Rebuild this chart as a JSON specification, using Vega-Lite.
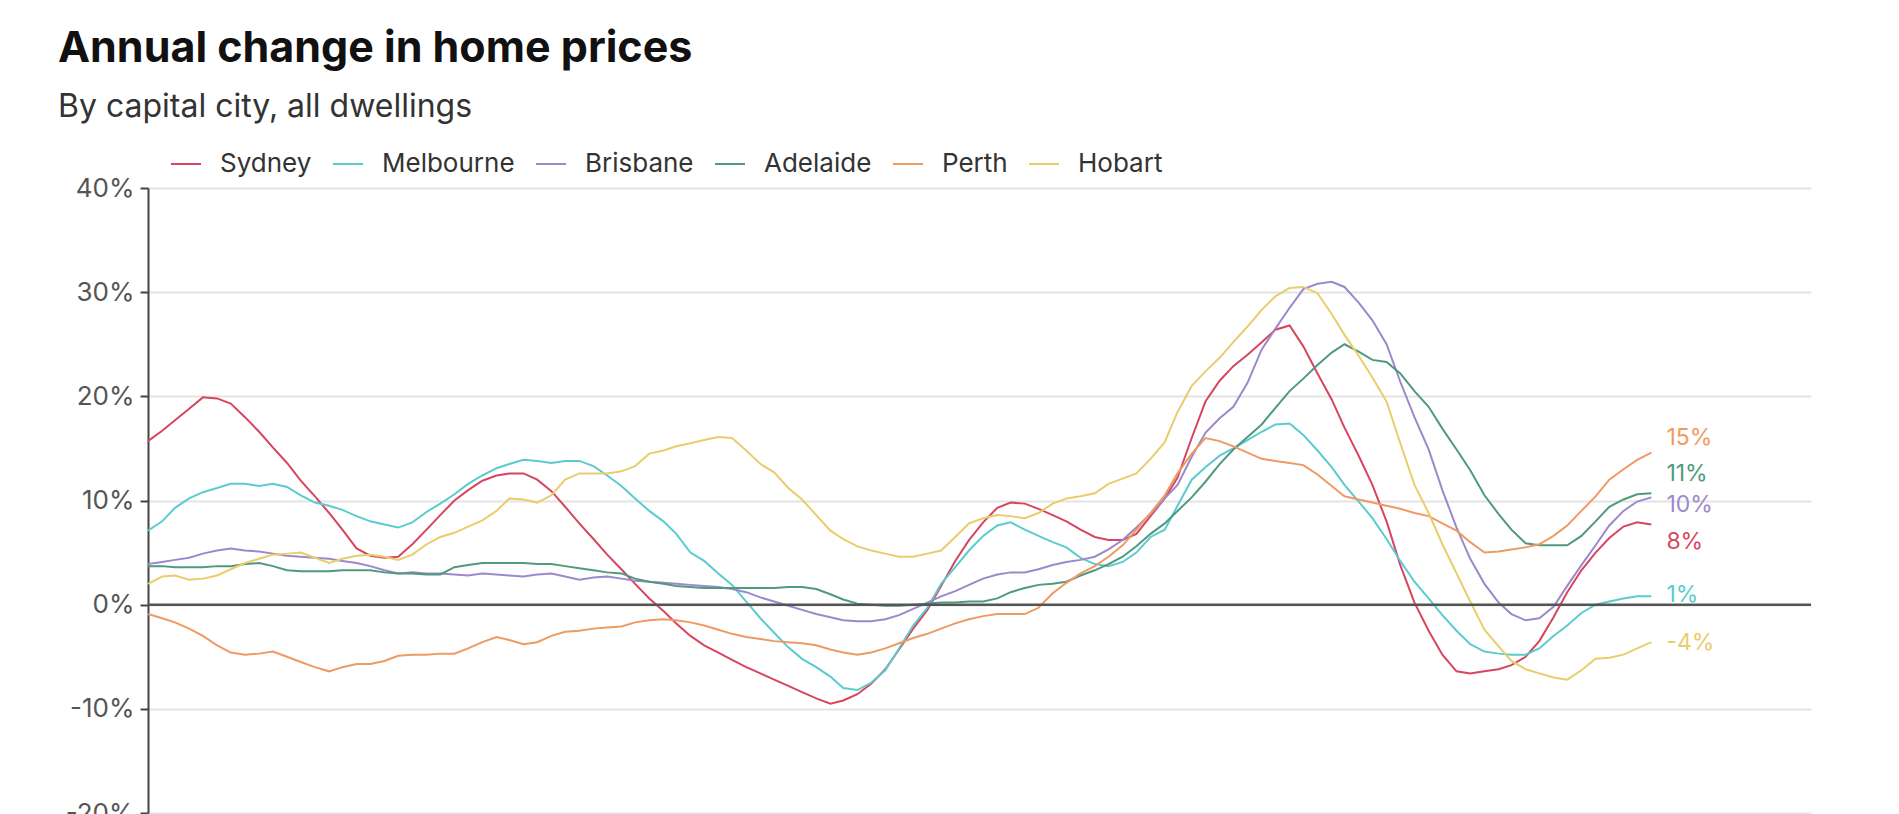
{
  "$schema": "https://vega.github.io/schema/vega-lite/v6.json",
  "width": 1663,
  "height": 625,
  "autosize": {"type": "none"},
  "padding": {"left": 148, "top": 188, "right": 88, "bottom": 1},
  "background": "white",
  "title": {
    "text": "Annual change in home prices",
    "subtitle": "By capital city, all dwellings",
    "anchor": "start",
    "frame": "group",
    "dx": -90,
    "offset": 25,
    "font": "Inter",
    "fontSize": 43,
    "fontWeight": "bold",
    "color": "#111111",
    "subtitleFont": "Inter",
    "subtitleFontSize": 32,
    "subtitleColor": "#333333",
    "subtitlePadding": 21
  },
  "config": {
    "view": {"stroke": null},
    "font": "Inter"
  },
  "data": {
    "values": [
      {"d":"2015-01-01","Sydney":15.7,"Melbourne":7.1,"Brisbane":3.9,"Adelaide":3.7,"Perth":-0.9,"Hobart":2.0},
      {"d":"2015-02-01","Sydney":16.7,"Melbourne":8.0,"Brisbane":4.1,"Adelaide":3.7,"Perth":-1.3,"Hobart":2.7},
      {"d":"2015-03-01","Sydney":17.7,"Melbourne":9.3,"Brisbane":4.3,"Adelaide":3.6,"Perth":-1.7,"Hobart":2.8},
      {"d":"2015-04-01","Sydney":18.8,"Melbourne":10.2,"Brisbane":4.5,"Adelaide":3.6,"Perth":-2.3,"Hobart":2.4},
      {"d":"2015-05-01","Sydney":19.9,"Melbourne":10.8,"Brisbane":4.9,"Adelaide":3.6,"Perth":-3.0,"Hobart":2.5},
      {"d":"2015-06-01","Sydney":19.8,"Melbourne":11.2,"Brisbane":5.2,"Adelaide":3.7,"Perth":-3.9,"Hobart":2.8},
      {"d":"2015-07-01","Sydney":19.3,"Melbourne":11.6,"Brisbane":5.4,"Adelaide":3.7,"Perth":-4.6,"Hobart":3.4},
      {"d":"2015-08-01","Sydney":18.0,"Melbourne":11.6,"Brisbane":5.2,"Adelaide":3.9,"Perth":-4.8,"Hobart":4.0},
      {"d":"2015-09-01","Sydney":16.6,"Melbourne":11.4,"Brisbane":5.1,"Adelaide":4.0,"Perth":-4.7,"Hobart":4.4},
      {"d":"2015-10-01","Sydney":15.1,"Melbourne":11.6,"Brisbane":4.9,"Adelaide":3.7,"Perth":-4.5,"Hobart":4.8},
      {"d":"2015-11-01","Sydney":13.6,"Melbourne":11.3,"Brisbane":4.7,"Adelaide":3.3,"Perth":-5.0,"Hobart":4.9},
      {"d":"2015-12-01","Sydney":11.9,"Melbourne":10.5,"Brisbane":4.6,"Adelaide":3.2,"Perth":-5.5,"Hobart":5.0},
      {"d":"2016-01-01","Sydney":10.4,"Melbourne":9.8,"Brisbane":4.5,"Adelaide":3.2,"Perth":-6.0,"Hobart":4.5},
      {"d":"2016-02-01","Sydney":8.8,"Melbourne":9.5,"Brisbane":4.4,"Adelaide":3.2,"Perth":-6.4,"Hobart":4.0},
      {"d":"2016-03-01","Sydney":7.2,"Melbourne":9.1,"Brisbane":4.2,"Adelaide":3.3,"Perth":-6.0,"Hobart":4.4},
      {"d":"2016-04-01","Sydney":5.4,"Melbourne":8.5,"Brisbane":4.0,"Adelaide":3.3,"Perth":-5.7,"Hobart":4.7},
      {"d":"2016-05-01","Sydney":4.7,"Melbourne":8.0,"Brisbane":3.7,"Adelaide":3.3,"Perth":-5.7,"Hobart":4.8},
      {"d":"2016-06-01","Sydney":4.5,"Melbourne":7.7,"Brisbane":3.3,"Adelaide":3.1,"Perth":-5.4,"Hobart":4.6},
      {"d":"2016-07-01","Sydney":4.6,"Melbourne":7.4,"Brisbane":3.0,"Adelaide":3.0,"Perth":-4.9,"Hobart":4.3},
      {"d":"2016-08-01","Sydney":5.8,"Melbourne":7.9,"Brisbane":3.1,"Adelaide":3.0,"Perth":-4.8,"Hobart":4.8},
      {"d":"2016-09-01","Sydney":7.2,"Melbourne":8.9,"Brisbane":3.0,"Adelaide":2.9,"Perth":-4.8,"Hobart":5.8},
      {"d":"2016-10-01","Sydney":8.6,"Melbourne":9.7,"Brisbane":3.0,"Adelaide":2.9,"Perth":-4.7,"Hobart":6.5},
      {"d":"2016-11-01","Sydney":10.0,"Melbourne":10.6,"Brisbane":2.9,"Adelaide":3.6,"Perth":-4.7,"Hobart":6.9},
      {"d":"2016-12-01","Sydney":11.0,"Melbourne":11.6,"Brisbane":2.8,"Adelaide":3.8,"Perth":-4.2,"Hobart":7.5},
      {"d":"2017-01-01","Sydney":11.9,"Melbourne":12.4,"Brisbane":3.0,"Adelaide":4.0,"Perth":-3.6,"Hobart":8.1},
      {"d":"2017-02-01","Sydney":12.4,"Melbourne":13.1,"Brisbane":2.9,"Adelaide":4.0,"Perth":-3.1,"Hobart":9.0},
      {"d":"2017-03-01","Sydney":12.6,"Melbourne":13.5,"Brisbane":2.8,"Adelaide":4.0,"Perth":-3.4,"Hobart":10.2},
      {"d":"2017-04-01","Sydney":12.6,"Melbourne":13.9,"Brisbane":2.7,"Adelaide":4.0,"Perth":-3.8,"Hobart":10.1},
      {"d":"2017-05-01","Sydney":12.0,"Melbourne":13.8,"Brisbane":2.9,"Adelaide":3.9,"Perth":-3.6,"Hobart":9.8},
      {"d":"2017-06-01","Sydney":10.9,"Melbourne":13.6,"Brisbane":3.0,"Adelaide":3.9,"Perth":-3.0,"Hobart":10.5},
      {"d":"2017-07-01","Sydney":9.4,"Melbourne":13.8,"Brisbane":2.7,"Adelaide":3.7,"Perth":-2.6,"Hobart":12.0},
      {"d":"2017-08-01","Sydney":7.8,"Melbourne":13.8,"Brisbane":2.4,"Adelaide":3.5,"Perth":-2.5,"Hobart":12.6},
      {"d":"2017-09-01","Sydney":6.3,"Melbourne":13.3,"Brisbane":2.6,"Adelaide":3.3,"Perth":-2.3,"Hobart":12.6},
      {"d":"2017-10-01","Sydney":4.8,"Melbourne":12.4,"Brisbane":2.7,"Adelaide":3.1,"Perth":-2.2,"Hobart":12.6},
      {"d":"2017-11-01","Sydney":3.4,"Melbourne":11.4,"Brisbane":2.5,"Adelaide":3.0,"Perth":-2.1,"Hobart":12.8},
      {"d":"2017-12-01","Sydney":2.0,"Melbourne":10.2,"Brisbane":2.3,"Adelaide":2.5,"Perth":-1.7,"Hobart":13.3},
      {"d":"2018-01-01","Sydney":0.6,"Melbourne":9.0,"Brisbane":2.2,"Adelaide":2.2,"Perth":-1.5,"Hobart":14.5},
      {"d":"2018-02-01","Sydney":-0.6,"Melbourne":8.0,"Brisbane":2.1,"Adelaide":2.0,"Perth":-1.4,"Hobart":14.8},
      {"d":"2018-03-01","Sydney":-1.8,"Melbourne":6.8,"Brisbane":2.0,"Adelaide":1.8,"Perth":-1.5,"Hobart":15.2},
      {"d":"2018-04-01","Sydney":-3.0,"Melbourne":5.0,"Brisbane":1.9,"Adelaide":1.7,"Perth":-1.7,"Hobart":15.5},
      {"d":"2018-05-01","Sydney":-3.9,"Melbourne":4.2,"Brisbane":1.8,"Adelaide":1.6,"Perth":-2.0,"Hobart":15.8},
      {"d":"2018-06-01","Sydney":-4.6,"Melbourne":3.0,"Brisbane":1.7,"Adelaide":1.6,"Perth":-2.4,"Hobart":16.1},
      {"d":"2018-07-01","Sydney":-5.3,"Melbourne":1.9,"Brisbane":1.5,"Adelaide":1.6,"Perth":-2.8,"Hobart":16.0},
      {"d":"2018-08-01","Sydney":-6.0,"Melbourne":0.3,"Brisbane":1.2,"Adelaide":1.6,"Perth":-3.1,"Hobart":14.8},
      {"d":"2018-09-01","Sydney":-6.6,"Melbourne":-1.3,"Brisbane":0.7,"Adelaide":1.6,"Perth":-3.3,"Hobart":13.5},
      {"d":"2018-10-01","Sydney":-7.2,"Melbourne":-2.7,"Brisbane":0.3,"Adelaide":1.6,"Perth":-3.5,"Hobart":12.7},
      {"d":"2018-11-01","Sydney":-7.8,"Melbourne":-4.1,"Brisbane":-0.1,"Adelaide":1.7,"Perth":-3.6,"Hobart":11.2},
      {"d":"2018-12-01","Sydney":-8.4,"Melbourne":-5.2,"Brisbane":-0.5,"Adelaide":1.7,"Perth":-3.7,"Hobart":10.1},
      {"d":"2019-01-01","Sydney":-9.0,"Melbourne":-6.0,"Brisbane":-0.9,"Adelaide":1.5,"Perth":-3.9,"Hobart":8.6},
      {"d":"2019-02-01","Sydney":-9.5,"Melbourne":-6.9,"Brisbane":-1.2,"Adelaide":1.0,"Perth":-4.3,"Hobart":7.1},
      {"d":"2019-03-01","Sydney":-9.2,"Melbourne":-8.0,"Brisbane":-1.5,"Adelaide":0.5,"Perth":-4.6,"Hobart":6.3},
      {"d":"2019-04-01","Sydney":-8.6,"Melbourne":-8.2,"Brisbane":-1.6,"Adelaide":0.1,"Perth":-4.8,"Hobart":5.6},
      {"d":"2019-05-01","Sydney":-7.6,"Melbourne":-7.5,"Brisbane":-1.6,"Adelaide":0.0,"Perth":-4.6,"Hobart":5.2},
      {"d":"2019-06-01","Sydney":-6.2,"Melbourne":-6.3,"Brisbane":-1.4,"Adelaide":-0.1,"Perth":-4.2,"Hobart":4.9},
      {"d":"2019-07-01","Sydney":-4.3,"Melbourne":-4.2,"Brisbane":-1.0,"Adelaide":-0.1,"Perth":-3.7,"Hobart":4.6},
      {"d":"2019-08-01","Sydney":-2.3,"Melbourne":-2.0,"Brisbane":-0.4,"Adelaide":0.0,"Perth":-3.2,"Hobart":4.6},
      {"d":"2019-09-01","Sydney":-0.5,"Melbourne":-0.3,"Brisbane":0.2,"Adelaide":0.1,"Perth":-2.8,"Hobart":4.9},
      {"d":"2019-10-01","Sydney":1.8,"Melbourne":2.0,"Brisbane":0.8,"Adelaide":0.2,"Perth":-2.3,"Hobart":5.2},
      {"d":"2019-11-01","Sydney":4.2,"Melbourne":3.6,"Brisbane":1.3,"Adelaide":0.2,"Perth":-1.8,"Hobart":6.5},
      {"d":"2019-12-01","Sydney":6.2,"Melbourne":5.2,"Brisbane":1.9,"Adelaide":0.3,"Perth":-1.4,"Hobart":7.8},
      {"d":"2020-01-01","Sydney":7.9,"Melbourne":6.6,"Brisbane":2.5,"Adelaide":0.3,"Perth":-1.1,"Hobart":8.3},
      {"d":"2020-02-01","Sydney":9.3,"Melbourne":7.6,"Brisbane":2.9,"Adelaide":0.6,"Perth":-0.9,"Hobart":8.6},
      {"d":"2020-03-01","Sydney":9.8,"Melbourne":7.9,"Brisbane":3.1,"Adelaide":1.2,"Perth":-0.9,"Hobart":8.5},
      {"d":"2020-04-01","Sydney":9.7,"Melbourne":7.2,"Brisbane":3.1,"Adelaide":1.6,"Perth":-0.9,"Hobart":8.3},
      {"d":"2020-05-01","Sydney":9.2,"Melbourne":6.6,"Brisbane":3.4,"Adelaide":1.9,"Perth":-0.3,"Hobart":8.8},
      {"d":"2020-06-01","Sydney":8.6,"Melbourne":6.0,"Brisbane":3.8,"Adelaide":2.0,"Perth":1.1,"Hobart":9.7},
      {"d":"2020-07-01","Sydney":8.0,"Melbourne":5.5,"Brisbane":4.1,"Adelaide":2.2,"Perth":2.1,"Hobart":10.2},
      {"d":"2020-08-01","Sydney":7.2,"Melbourne":4.5,"Brisbane":4.3,"Adelaide":2.8,"Perth":3.0,"Hobart":10.4},
      {"d":"2020-09-01","Sydney":6.5,"Melbourne":3.9,"Brisbane":4.6,"Adelaide":3.3,"Perth":3.7,"Hobart":10.7},
      {"d":"2020-10-01","Sydney":6.2,"Melbourne":3.7,"Brisbane":5.3,"Adelaide":3.9,"Perth":4.6,"Hobart":11.6},
      {"d":"2020-11-01","Sydney":6.2,"Melbourne":4.1,"Brisbane":6.2,"Adelaide":4.6,"Perth":5.7,"Hobart":12.1},
      {"d":"2020-12-01","Sydney":6.8,"Melbourne":5.0,"Brisbane":7.4,"Adelaide":5.6,"Perth":7.2,"Hobart":12.6},
      {"d":"2021-01-01","Sydney":8.5,"Melbourne":6.5,"Brisbane":8.7,"Adelaide":6.8,"Perth":8.8,"Hobart":14.0},
      {"d":"2021-02-01","Sydney":10.2,"Melbourne":7.2,"Brisbane":10.2,"Adelaide":7.8,"Perth":10.5,"Hobart":15.6},
      {"d":"2021-03-01","Sydney":12.2,"Melbourne":9.5,"Brisbane":11.5,"Adelaide":9.0,"Perth":12.6,"Hobart":18.5},
      {"d":"2021-04-01","Sydney":16.0,"Melbourne":12.0,"Brisbane":14.2,"Adelaide":10.3,"Perth":14.5,"Hobart":21.0},
      {"d":"2021-05-01","Sydney":19.5,"Melbourne":13.2,"Brisbane":16.5,"Adelaide":11.8,"Perth":16.0,"Hobart":22.4},
      {"d":"2021-06-01","Sydney":21.5,"Melbourne":14.3,"Brisbane":17.9,"Adelaide":13.5,"Perth":15.7,"Hobart":23.7},
      {"d":"2021-07-01","Sydney":22.9,"Melbourne":15.0,"Brisbane":19.0,"Adelaide":14.9,"Perth":15.2,"Hobart":25.2},
      {"d":"2021-08-01","Sydney":24.0,"Melbourne":15.8,"Brisbane":21.3,"Adelaide":16.1,"Perth":14.6,"Hobart":26.7},
      {"d":"2021-09-01","Sydney":25.2,"Melbourne":16.6,"Brisbane":24.5,"Adelaide":17.3,"Perth":14.0,"Hobart":28.3},
      {"d":"2021-10-01","Sydney":26.4,"Melbourne":17.3,"Brisbane":26.5,"Adelaide":18.9,"Perth":13.8,"Hobart":29.6},
      {"d":"2021-11-01","Sydney":26.8,"Melbourne":17.4,"Brisbane":28.5,"Adelaide":20.5,"Perth":13.6,"Hobart":30.4},
      {"d":"2021-12-01","Sydney":24.8,"Melbourne":16.3,"Brisbane":30.3,"Adelaide":21.7,"Perth":13.4,"Hobart":30.5},
      {"d":"2022-01-01","Sydney":22.2,"Melbourne":14.8,"Brisbane":30.8,"Adelaide":23.0,"Perth":12.5,"Hobart":29.9},
      {"d":"2022-02-01","Sydney":19.7,"Melbourne":13.2,"Brisbane":31.0,"Adelaide":24.2,"Perth":11.4,"Hobart":27.9},
      {"d":"2022-03-01","Sydney":17.0,"Melbourne":11.5,"Brisbane":30.5,"Adelaide":25.0,"Perth":10.4,"Hobart":25.9},
      {"d":"2022-04-01","Sydney":14.3,"Melbourne":9.9,"Brisbane":29.0,"Adelaide":24.3,"Perth":10.1,"Hobart":23.9},
      {"d":"2022-05-01","Sydney":11.5,"Melbourne":8.3,"Brisbane":27.3,"Adelaide":23.5,"Perth":9.8,"Hobart":21.8},
      {"d":"2022-06-01","Sydney":8.0,"Melbourne":6.3,"Brisbane":25.0,"Adelaide":23.3,"Perth":9.5,"Hobart":19.5},
      {"d":"2022-07-01","Sydney":3.8,"Melbourne":4.2,"Brisbane":21.4,"Adelaide":22.2,"Perth":9.2,"Hobart":15.5},
      {"d":"2022-08-01","Sydney":0.2,"Melbourne":2.2,"Brisbane":18.0,"Adelaide":20.5,"Perth":8.8,"Hobart":11.5},
      {"d":"2022-09-01","Sydney":-2.5,"Melbourne":0.6,"Brisbane":14.9,"Adelaide":19.0,"Perth":8.5,"Hobart":8.8},
      {"d":"2022-10-01","Sydney":-4.8,"Melbourne":-1.0,"Brisbane":11.0,"Adelaide":16.9,"Perth":7.8,"Hobart":5.8},
      {"d":"2022-11-01","Sydney":-6.4,"Melbourne":-2.5,"Brisbane":7.4,"Adelaide":14.9,"Perth":7.1,"Hobart":3.0},
      {"d":"2022-12-01","Sydney":-6.6,"Melbourne":-3.8,"Brisbane":4.4,"Adelaide":12.9,"Perth":6.0,"Hobart":0.3},
      {"d":"2023-01-01","Sydney":-6.4,"Melbourne":-4.5,"Brisbane":2.0,"Adelaide":10.5,"Perth":5.0,"Hobart":-2.4},
      {"d":"2023-02-01","Sydney":-6.2,"Melbourne":-4.7,"Brisbane":0.2,"Adelaide":8.7,"Perth":5.1,"Hobart":-4.0},
      {"d":"2023-03-01","Sydney":-5.8,"Melbourne":-4.8,"Brisbane":-0.9,"Adelaide":7.2,"Perth":5.3,"Hobart":-5.4},
      {"d":"2023-04-01","Sydney":-5.0,"Melbourne":-4.8,"Brisbane":-1.5,"Adelaide":5.9,"Perth":5.5,"Hobart":-6.2},
      {"d":"2023-05-01","Sydney":-3.5,"Melbourne":-4.2,"Brisbane":-1.3,"Adelaide":5.7,"Perth":5.8,"Hobart":-6.6},
      {"d":"2023-06-01","Sydney":-1.2,"Melbourne":-3.0,"Brisbane":-0.2,"Adelaide":5.7,"Perth":6.6,"Hobart":-7.0},
      {"d":"2023-07-01","Sydney":1.2,"Melbourne":-2.0,"Brisbane":1.8,"Adelaide":5.7,"Perth":7.6,"Hobart":-7.2},
      {"d":"2023-08-01","Sydney":3.3,"Melbourne":-0.8,"Brisbane":3.8,"Adelaide":6.6,"Perth":9.0,"Hobart":-6.3},
      {"d":"2023-09-01","Sydney":5.0,"Melbourne":0.0,"Brisbane":5.7,"Adelaide":8.0,"Perth":10.4,"Hobart":-5.2},
      {"d":"2023-10-01","Sydney":6.4,"Melbourne":0.3,"Brisbane":7.6,"Adelaide":9.4,"Perth":12.0,"Hobart":-5.1},
      {"d":"2023-11-01","Sydney":7.5,"Melbourne":0.6,"Brisbane":9.0,"Adelaide":10.1,"Perth":13.0,"Hobart":-4.8},
      {"d":"2023-12-01","Sydney":7.9,"Melbourne":0.8,"Brisbane":9.9,"Adelaide":10.6,"Perth":13.9,"Hobart":-4.2},
      {"d":"2024-01-01","Sydney":7.7,"Melbourne":0.8,"Brisbane":10.3,"Adelaide":10.7,"Perth":14.6,"Hobart":-3.6}
    ]
  },
  "transform": [
    {"fold": ["Sydney", "Melbourne", "Brisbane", "Adelaide", "Perth", "Hobart"], "as": ["city", "value"]}
  ],
  "encoding": {
    "x": {
      "field": "d",
      "type": "temporal",
      "axis": null,
      "scale": {"domain": [{"year": 2015, "month": 1, "date": 1, "utc": true}, {"year": 2024, "month": 12, "date": 15, "utc": true}]}
    },
    "y": {
      "field": "value",
      "type": "quantitative",
      "scale": {"domain": [-20, 40], "nice": false},
      "axis": {
        "title": null,
        "values": [-20, -10, 0, 10, 20, 30, 40],
        "labelExpr": "datum.value + '%'",
        "labelFont": "Inter",
        "labelFontSize": 26,
        "labelColor": "#555555",
        "labelPadding": 6,
        "domain": true,
        "domainColor": "#444444",
        "domainWidth": 2,
        "ticks": true,
        "tickSize": 8,
        "tickColor": "#444444",
        "tickWidth": 2,
        "grid": true,
        "gridColor": "#e4e4e4",
        "gridWidth": 2
      }
    }
  },
  "layer": [
    {
      "mark": {"type": "line", "strokeWidth": 2},
      "encoding": {
        "color": {
          "field": "city",
          "type": "nominal",
          "scale": {
            "domain": ["Sydney", "Melbourne", "Brisbane", "Adelaide", "Perth", "Hobart"],
            "range": ["#d8455f", "#5ccbcf", "#9c88cc", "#4f9a7d", "#ef9a62", "#e9cd6c"]
          },
          "legend": {
            "orient": "none",
            "legendX": 22,
            "legendY": -40,
            "direction": "horizontal",
            "title": null,
            "symbolType": "stroke",
            "symbolSize": 900,
            "symbolStrokeWidth": 2,
            "labelFont": "Inter",
            "labelFontSize": 26,
            "labelColor": "#333333",
            "labelOffset": 18,
            "columnPadding": 17
          }
        }
      }
    },
    {
      "transform": [{"filter": "datum.city == 'Perth' && utcyear(datum.d) == 2024"}],
      "mark": {"type": "text", "text": "15%", "align": "left", "baseline": "middle", "dx": 15, "dy": -15, "font": "Inter", "fontSize": 23, "color": "#ef9a62"}
    },
    {
      "transform": [{"filter": "datum.city == 'Adelaide' && utcyear(datum.d) == 2024"}],
      "mark": {"type": "text", "text": "11%", "align": "left", "baseline": "middle", "dx": 15, "dy": -19, "font": "Inter", "fontSize": 23, "color": "#4f9a7d"}
    },
    {
      "transform": [{"filter": "datum.city == 'Brisbane' && utcyear(datum.d) == 2024"}],
      "mark": {"type": "text", "text": "10%", "align": "left", "baseline": "middle", "dx": 15, "dy": 8, "font": "Inter", "fontSize": 23, "color": "#9c88cc"}
    },
    {
      "transform": [{"filter": "datum.city == 'Sydney' && utcyear(datum.d) == 2024"}],
      "mark": {"type": "text", "text": "8%", "align": "left", "baseline": "middle", "dx": 15, "dy": 18, "font": "Inter", "fontSize": 23, "color": "#d8455f"}
    },
    {
      "transform": [{"filter": "datum.city == 'Melbourne' && utcyear(datum.d) == 2024"}],
      "mark": {"type": "text", "text": "1%", "align": "left", "baseline": "middle", "dx": 15, "dy": -1, "font": "Inter", "fontSize": 23, "color": "#5ccbcf"}
    },
    {
      "transform": [{"filter": "datum.city == 'Hobart' && utcyear(datum.d) == 2024"}],
      "mark": {"type": "text", "text": "-4%", "align": "left", "baseline": "middle", "dx": 15, "dy": 1, "font": "Inter", "fontSize": 23, "color": "#e9cd6c"}
    },
    {
      "data": {"values": [{"value": 0}]},
      "mark": {"type": "rule", "color": "#555555", "strokeWidth": 2.5},
      "encoding": {"x": null, "y": {"field": "value", "type": "quantitative"}}
    }
  ]
}
